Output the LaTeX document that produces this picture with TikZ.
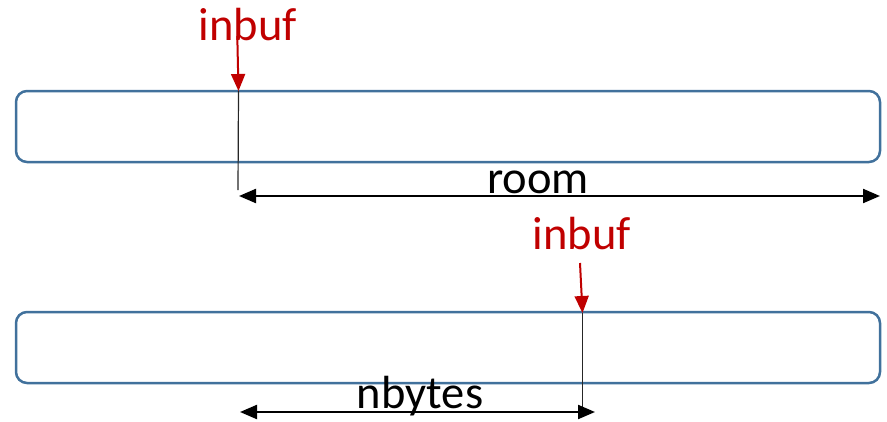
\documentclass[tikz,border=0pt]{standalone}
\usepackage{fontspec}
\setmainfont{Carlito}
\usetikzlibrary{arrows.meta}
\definecolor{boxblue}{RGB}{65,113,156}
\definecolor{ptrred}{RGB}{192,0,0}
\begin{document}
\begin{tikzpicture}[x=1pt,y=-1pt,
  buffer/.style={draw=boxblue,line width=2.5pt,rounded corners=11pt},
  lbl/.style={inner sep=0pt,anchor=base,font=\fontsize{46.5}{46.5}\selectfont},
  redlbl/.style={lbl,text=ptrred},
  ptr/.style={draw=ptrred,line width=2pt,-{Triangle[length=17pt,width=14pt]}},
  tick/.style={draw=black!85,line width=1.2pt},
  span/.style={draw=black,line width=2.2pt,{Triangle[length=17pt,width=14pt]}-{Triangle[length=17pt,width=14pt]}}]
\useasboundingbox (0,0) rectangle (887,421);
% top buffer
\draw[buffer] (16,91) rectangle (880,162);
\node[redlbl] (in1) at (248,40) {inbuf};
\coordinate (in1s) at (237.3,36);
\coordinate (in1e) at (238.5,91);
\draw[ptr] (in1s) -- (in1e);
\coordinate (t1b) at (238,190);
\draw[tick] (in1e) -- (t1b);
\coordinate (r1) at (239,196);
\coordinate (r2) at (880,196);
\draw[span] (r1) -- (r2);
\node[lbl] (room) at (538,193) {room};
% bottom buffer
\draw[buffer] (16,312) rectangle (880,383);
\node[redlbl] (in2) at (582,249) {inbuf};
\coordinate (in2s) at (580,263);
\coordinate (in2e) at (582.5,313);
\draw[ptr] (in2s) -- (in2e);
\coordinate (t2b) at (582.5,412);
\draw[tick] (in2e) -- (t2b);
\node[lbl] (nb) at (420,408) {nbytes};
\coordinate (n1) at (240,412);
\coordinate (n2) at (595,412);
\draw[span] (n1) -- (n2);
\end{tikzpicture}
\end{document}
